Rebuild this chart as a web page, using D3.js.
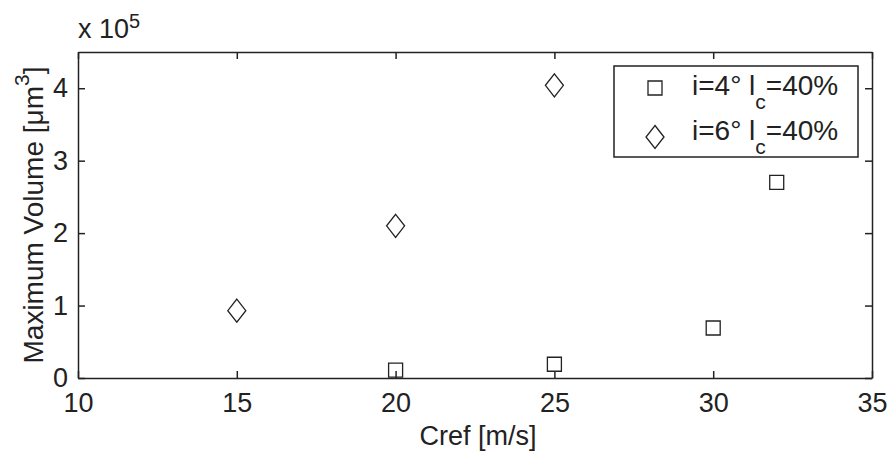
<!DOCTYPE html>
<html lang="en">
<head>
<meta charset="UTF-8">
<title>Maximum Volume</title>
<script src="https://d3js.org/d3.v7.min.js"></script>
<style>
  body { margin: 0; background: #fff; }
  text { font-family: "Liberation Sans", Arial, Helvetica, sans-serif; fill: #222; }
</style>
</head>
<body>
<div id="chart"></div>
<script>
    // data (volume in units of 1e5 um^3)
    const xTicks = [10, 15, 20, 25, 30, 35];
    const yTicks = [0, 1, 2, 3, 4];
    const seriesNames = ["i=4°", "i=6°"];
    const squareX = [20, 25, 30, 32];
    const squareY = [0.11, 0.19, 0.69, 2.70];
    const diamondX = [15, 20, 25];
    const diamondY = [0.93, 2.10, 4.04];

    const width = 890, height = 456;
    const margin = { top: 52, right: 18, bottom: 78, left: 78 };
    const fs = "27px";

    const svg = d3.select("#chart").append("svg")
        .attr("width", width)
        .attr("height", height);

    const x = d3.scaleLinear().domain([10, 35]).range([margin.left, width - margin.right]);
    const y = d3.scaleLinear().domain([0, 4.5]).range([height - margin.bottom, margin.top]);

    const tickLen = 7;
    const fmt = d3.format("d");

    // axes, MATLAB style: ticks pointing inward on all four sides
    svg.append("g")
        .attr("transform", `translate(0,${y(0)})`)
        .call(d3.axisBottom(x).tickValues(xTicks).tickFormat(fmt).tickSizeInner(-tickLen).tickSizeOuter(0).tickPadding(15))
        .call(g => g.selectAll("text").style("font-size", fs));
    svg.append("g")
        .attr("transform", `translate(0,${y(4.5)})`)
        .call(d3.axisTop(x).tickValues(xTicks).tickSizeInner(-tickLen).tickSizeOuter(0).tickFormat(""));
    svg.append("g")
        .attr("transform", `translate(${x(10)},0)`)
        .call(d3.axisLeft(y).tickValues(yTicks).tickFormat(fmt).tickSizeInner(-tickLen).tickSizeOuter(0).tickPadding(10))
        .call(g => g.selectAll("text").style("font-size", fs));
    svg.append("g")
        .attr("transform", `translate(${x(35)},0)`)
        .call(d3.axisRight(y).tickValues(yTicks).tickSizeInner(-tickLen).tickSizeOuter(0).tickFormat(""));

    svg.selectAll(".domain, .tick line").attr("stroke", "#222").attr("stroke-width", 1.5);

    // exponent label
    const expo = svg.append("text")
        .attr("x", margin.left)
        .attr("y", 38)
        .style("font-size", fs);
    expo.append("tspan").text("x 10");
    expo.append("tspan").attr("dy", -10).style("font-size", "20px").text("5");

    // axis titles
    svg.append("text")
        .attr("x", (x(10) + x(35)) / 2 + 3)
        .attr("y", 445)
        .attr("text-anchor", "middle")
        .style("font-size", fs)
        .text("Cref [m/s]");

    const yl = svg.append("text")
        .attr("transform", `translate(43,${(y(0) + y(4.5)) / 2}) rotate(-90)`)
        .attr("text-anchor", "middle")
        .style("font-size", "28px");
    yl.append("tspan").text("Maximum Volume [μm");
    yl.append("tspan").attr("dy", -14).style("font-size", "21px").text("3");
    yl.append("tspan").attr("dy", 14).text("]");

    // markers
    const squarePath = d3.symbol().type(d3.symbolSquare).size(14 * 14);
    const diamondPath = "M0,-11.5L9,0L0,11.5L-9,0Z";

    svg.selectAll(".sq")
        .data(squareX.map((d, i) => [d, squareY[i]]))
        .join("path")
        .attr("class", "sq")
        .attr("transform", d => `translate(${x(d[0])},${y(d[1])})`)
        .attr("d", squarePath())
        .attr("fill", "none")
        .attr("stroke", "#222")
        .attr("stroke-width", 1.3);

    svg.selectAll(".dm")
        .data(diamondX.map((d, i) => [d, diamondY[i]]))
        .join("path")
        .attr("class", "dm")
        .attr("transform", d => `translate(${x(d[0])},${y(d[1])})`)
        .attr("d", diamondPath)
        .attr("fill", "none")
        .attr("stroke", "#222")
        .attr("stroke-width", 1.3);

    // legend
    const lg = svg.append("g").attr("transform", "translate(614,66)");
    lg.append("rect")
        .attr("width", 244).attr("height", 91)
        .attr("fill", "#fff").attr("stroke", "#222").attr("stroke-width", 1.5);

    const rows = [
        { label: seriesNames[0], shape: squarePath(), sy: 22, ty: 29 },
        { label: seriesNames[1], shape: diamondPath, sy: 71, ty: 74 }
    ];
    rows.forEach(r => {
        lg.append("path")
            .attr("transform", `translate(41,${r.sy})`)
            .attr("d", r.shape)
            .attr("fill", "none").attr("stroke", "#222").attr("stroke-width", 1.3);
        const t = lg.append("text")
            .attr("x", 78).attr("y", r.ty)
            .style("font-size", "28px");
        t.append("tspan").text(r.label + " l");
        t.append("tspan").attr("dy", 14).style("font-size", "21px").text("c");
        t.append("tspan").attr("dy", -14).text("=40%");
    });
</script>
</body>
</html>
